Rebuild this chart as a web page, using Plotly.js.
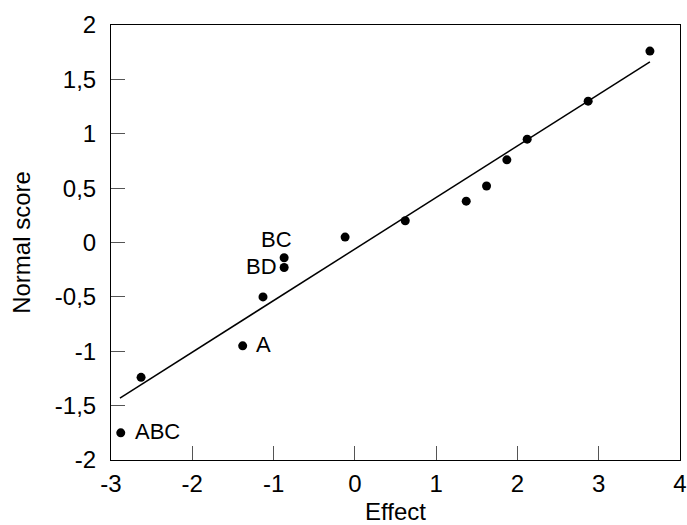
<!DOCTYPE html>
<html>
<head>
<meta charset="utf-8">
<script src="https://cdn.plot.ly/plotly-3.0.1.min.js"></script>
<style>html,body{margin:0;padding:0;background:#fff;}#chart{width:687px;height:525px;}</style>
</head>
<body>
<div id="chart"></div>
<script>
const effects = [-2.88, -2.63, -1.38, -1.13, -0.87, -0.87, -0.12, 0.62, 1.37, 1.62, 1.87, 2.12, 2.87, 3.63];
const normalScores = [-1.75, -1.24, -0.95, -0.50, -0.23, -0.14, 0.05, 0.20, 0.38, 0.52, 0.76, 0.95, 1.30, 1.76];
const fitX = [-2.89, 3.63];
const fitY = [-1.43, 1.66];
const labelNames = ["ABC", "A", "BD", "BC"];
const labelIndex = [0, 2, 4, 5];
const xTickVals = [-3, -2, -1, 0, 1, 2, 3, 4];
const xTickText = ["-3", "-2", "-1", "0", "1", "2", "3", "4"];
const yTickVals = [-2, -1.5, -1, -0.5, 0, 0.5, 1, 1.5, 2];
const yTickText = ["-2", "-1,5", "-1", "-0,5", "0", "0,5", "1", "1,5", "2"];

const FONT = "Liberation Sans, Arial, sans-serif";

const labelStyle = {
  ABC: {xanchor: "left", xshift: 12, yshift: 1},
  A: {xanchor: "left", xshift: 11, yshift: 1},
  BD: {xanchor: "right", xshift: -5, yshift: 1},
  BC: {xanchor: "right", xshift: 10, yshift: 18}
};

const annotations = labelNames.map((n, i) => {
  const k = labelIndex[i];
  const s = labelStyle[n];
  return {x: effects[k], y: normalScores[k], xref: "x", yref: "y", text: n, showarrow: false,
    xanchor: s.xanchor, yanchor: "middle", xshift: s.xshift, yshift: s.yshift,
    font: {family: FONT, size: 22, color: "#000"}};
});

const data = [
  {x: fitX, y: fitY, mode: "lines", type: "scatter", line: {color: "#000", width: 1.5}, hoverinfo: "skip"},
  {x: effects, y: normalScores, mode: "markers", type: "scatter", marker: {color: "#000", size: 9}}
];

const axisCommon = {
  showgrid: false, zeroline: false, showline: true, linecolor: "#000", linewidth: 1, mirror: true,
  ticks: "inside", ticklen: 14, tickwidth: 1, tickcolor: "#555",
  tickfont: {family: FONT, size: 24, color: "#000"},
  tickmode: "array"
};

const layout = {
  width: 687, height: 525,
  margin: {l: 111, r: 7, t: 25, b: 65},
  paper_bgcolor: "#fff", plot_bgcolor: "#fff",
  showlegend: false,
  font: {family: FONT, size: 24, color: "#000"},
  xaxis: Object.assign({}, axisCommon, {range: [-3, 4], tickvals: xTickVals, ticktext: xTickText,
    ticklabelstandoff: 2,
    title: {text: "Effect", font: {size: 24}, standoff: 7}}),
  yaxis: Object.assign({}, axisCommon, {range: [-2, 2], tickvals: yTickVals, ticktext: yTickText,
    ticklabelstandoff: 9,
    title: {text: "Normal score", font: {size: 24}, standoff: 17}}),
  annotations: annotations
};

Plotly.newPlot("chart", data, layout, {displayModeBar: false, staticPlot: true});
</script>
</body>
</html>
